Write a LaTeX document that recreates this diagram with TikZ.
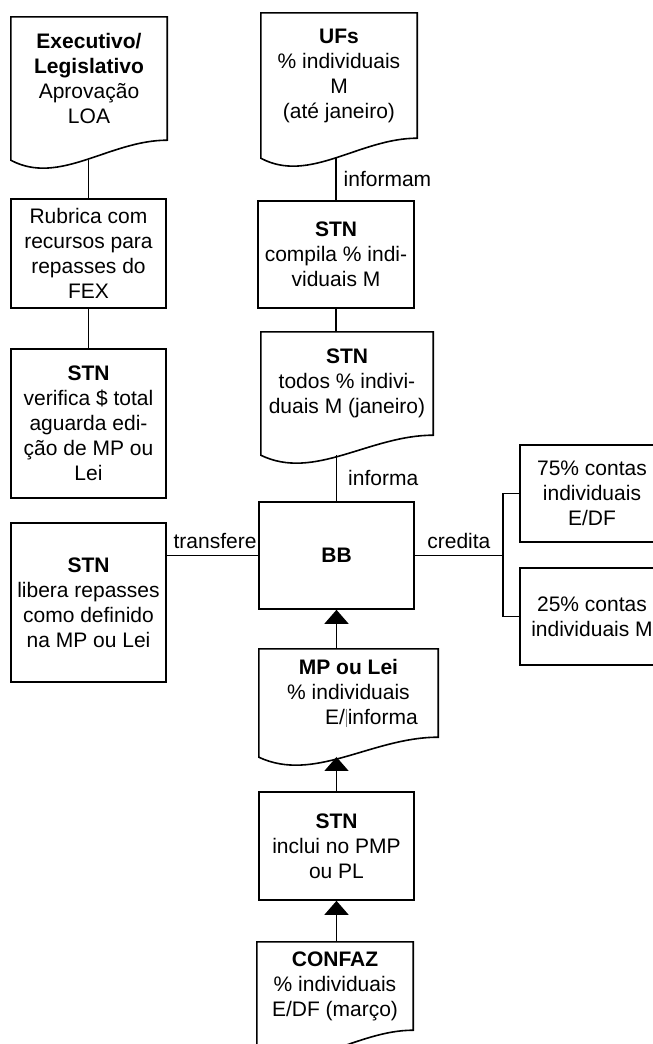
\documentclass[tikz,border=0pt]{standalone}
\usepackage{fontspec}
\setmainfont{Liberation Sans}
\usetikzlibrary{arrows.meta,calc}

% document symbol: frame with wavy bottom, plus a coordinate <name>-w on the wave
\newcommand\docshape[1]{%
  \draw[docline] (#1.north west) -- (#1.north east) -- (#1.south east)
    .. controls ($(#1.south east)!0.37!(#1.south west)$)
    and ($(#1.south west)!0.31!(#1.south east)+(0,46)$)
    .. ($(#1.south west)+(0,20)$) coordinate[pos=0.5] (#1-w) -- cycle;}

\begin{document}
\begin{tikzpicture}[x=1pt, y=-1pt,
    font=\fontsize{21}{25}\selectfont,
    box/.style={draw, line width=1.6pt, align=center, inner sep=0pt},
    doc/.style={align=center, inner sep=0pt},
    docline/.style={line width=1.6pt},
    link/.style={line width=1.4pt},
    arr/.style={link, -{Triangle[width=24pt,length=14pt]}},
    lbl/.style={inner sep=0pt}]
  \clip (0,0) rectangle (653,1044);

  % left column
  \node[doc, minimum width=156pt, minimum height=123pt] (exec) at (89,78.5)
    {\textbf{Executivo/}\\\textbf{Legislativo}\\Aprovação\\LOA};
  \docshape{exec}
  \node[box, minimum width=155pt, minimum height=109pt] (rubrica) at (88.5,253.5)
    {Rubrica com\\recursos para\\repasses do\\FEX};
  \node[box, minimum width=155pt, minimum height=149pt] (verifica) at (88.5,423.5)
    {\textbf{STN}\\verifica \$ total\\aguarda edi-\\ção de MP ou\\Lei};
  \node[box, minimum width=155pt, minimum height=159pt] (libera) at (88.5,602.5)
    {\textbf{STN}\\libera repasses\\como definido\\na MP ou Lei};

  % centre column
  \node[doc, minimum width=156pt, minimum height=125pt] (ufs) at (339,75.5)
    {\textbf{UFs}\\\% individuais\\M\\(até janeiro)};
  \docshape{ufs}
  \node[box, minimum width=156pt, minimum height=107pt] (compila) at (336,254.5)
    {\textbf{STN}\\compila \% indi-\\viduais M};
  \node[doc, minimum width=172pt, minimum height=103pt] (todos) at (347,383.5)
    {\textbf{STN}\\todos \% indivi-\\duais M (janeiro)};
  \docshape{todos}
  \node[box, minimum width=155pt, minimum height=107pt] (bb) at (336.5,555.5)
    {\textbf{BB}};
  \node[doc, minimum width=179pt, minimum height=88pt] (mp) at (348.5,693)
    {\textbf{MP ou Lei}\\\% individuais\\\hspace*{46pt}E/\kern1pt\textcolor{gray}{\rule[-3pt]{0.7pt}{18pt}}\kern1pt informa};
  \docshape{mp}
  \node[box, minimum width=155pt, minimum height=108pt] (inclui) at (336.5,846)
    {\textbf{STN}\\inclui no PMP\\ou PL};
  \node[doc, minimum width=156pt, minimum height=88pt] (confaz) at (335,986)
    {\textbf{CONFAZ}\\\% individuais\\E/DF (março)};
  \docshape{confaz}

  % right column
  \node[box, minimum width=144pt, minimum height=97pt] (pct75) at (592,493.5)
    {75\% contas\\individuais\\E/DF};
  \node[box, minimum width=144pt, minimum height=97pt] (pct25) at (592,616.5)
    {25\% contas\\individuais M};
  \coordinate (split) at (bb.east -| 503,0);

  % connectors
  \draw[link] (rubrica.north |- exec-w) -- (rubrica.north);
  \draw[link] (rubrica.south) -- (verifica.north);
  \draw[link] (compila.north |- ufs-w) -- node[right, lbl, xshift=7pt] {informam} (compila.north);
  \draw[link] (compila.south) -- (todos.north -| compila.south);
  \draw[link] (bb.north |- todos-w) -- node[right, lbl, xshift=11pt] {informa} (bb.north);
  \draw[link] (libera.east |- bb.west) -- (bb.west)
    node[above left, inner xsep=1pt, inner ysep=6pt] {transfere};
  \draw[link] (bb.east) -- node[above, inner ysep=6pt] {credita} (split);
  \draw[link] (pct75.west) -| (split) |- (pct25.west);
  \draw[arr] (mp.north -| bb.south) -- (bb.south);
  \draw[arr] (inclui.north) -- (inclui.north |- mp-w);
  \draw[arr] (confaz.north -| inclui.south) -- (inclui.south);
\end{tikzpicture}
\end{document}
